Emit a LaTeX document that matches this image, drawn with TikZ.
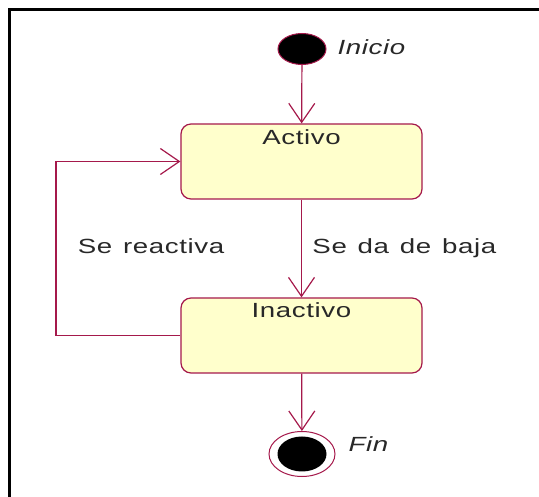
\documentclass[tikz,border=0pt]{standalone}
\usepackage{fontspec}
\setmainfont{Liberation Sans}[FakeStretch=1.35, LetterSpace=3, WordSpace=1.3]
\usepackage{xcolor}
\definecolor{umlred}{RGB}{165,25,75}
\definecolor{umlfill}{RGB}{255,255,204}
\definecolor{umltext}{RGB}{40,40,40}
\usetikzlibrary{arrows.meta,positioning,shapes.geometric}

\newcommand{\umlfont}{\fontsize{20.5}{24}\selectfont}

\begin{document}
\begin{tikzpicture}[x=1pt, y=-1pt,
  statebox/.style={draw=umlred, fill=umlfill, line width=1.2pt, rounded corners=10pt,
    minimum width=241pt, minimum height=75pt, inner sep=0pt},
  trans/.style={-{Straight Barb[length=19pt, width=26pt]}, draw=umlred, line width=1.2pt},
  lbl/.style={font=\umlfont, text=umltext}]
  \useasboundingbox (0,0) rectangle (539,497);

  % outer frame
  \draw[line width=3pt] (9,497) -- (9,10) -- (539,10);

  % initial state
  \node[ellipse, draw=umlred, fill=black, line width=1pt, minimum width=48pt, minimum height=31pt, inner sep=0pt] (init) at (302,49) {};
  \node[lbl, font=\umlfont\itshape, anchor=west] (initlbl) at (334,47) {Inicio};

  % states
  \node[statebox, label={[lbl, anchor=north, yshift=-3pt]north:Activo}] (activo) at (301.5,161.5) {};
  \node[statebox, label={[lbl, anchor=north, yshift=-2pt]north:Inactivo}] (inactivo) at (301.5,335.5) {};

  % final state
  \node[ellipse, draw=umlred, fill=white, line width=1pt, minimum width=66pt, minimum height=45pt, inner sep=0pt] (fin) at (302,454) {};
  \node[ellipse, fill=black, minimum width=49pt, minimum height=35pt, inner sep=0pt] (fincore) at (fin.center) {};
  \node[lbl, font=\umlfont\itshape, anchor=west] (finlbl) at (345,444) {Fin};

  % transitions
  \draw[trans] (init) -- (activo);
  \draw[trans] (activo) -- node[lbl, right=7pt] {Se da de baja} (inactivo);
  \draw[trans] (inactivo) -- (fin);

  \coordinate (loop) at (56,335.5);
  \draw[trans] (inactivo.west) -- (loop) |- (activo.west);
  \node[lbl] (reactlbl) at (151,246) {Se reactiva};
\end{tikzpicture}
\end{document}
